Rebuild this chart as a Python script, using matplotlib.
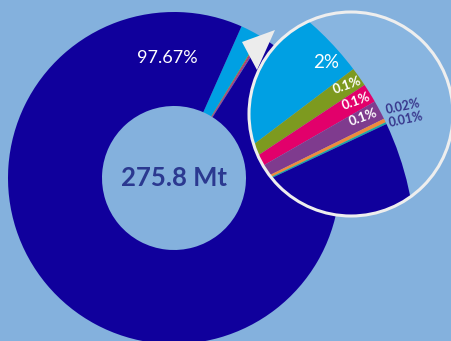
import numpy as np
import matplotlib
matplotlib.use("Agg")
import matplotlib.pyplot as plt
from matplotlib.patches import Wedge, Circle, Polygon

# shares of total (percent), clockwise from the top group
labels = ["2%", "0.1%", "0.1%", "0.1%", "0.02%", "0.01%", "97.67%"]
shares = [2.0, 0.1, 0.1, 0.1, 0.02, 0.01, 97.67]
colors = ["#00a0e3", "#7d9a1f", "#e2006b", "#7f3b8e", "#f08a3c", "#1ba8a0", "#10009c"]
total_text = "275.8 Mt"

W, H = 452, 341
BG = "#84b1dd"


def Y(y):
    # image pixel rows -> data y (origin bottom)
    return H - y


fig = plt.figure(figsize=(W / 100, H / 100), dpi=100, facecolor=BG)
ax = fig.add_axes([0, 0, 1, 1])
ax.set_facecolor(BG)

# main donut
cx, cy, r_out, r_in = 174, 178, 166, 72
ax.pie(shares, colors=colors, radius=r_out, center=(cx, Y(cy)), startangle=66,
       counterclock=False, wedgeprops=dict(width=r_out - r_in, linewidth=0))
ax.text(167, Y(58), labels[-1], color="white", fontsize=13, family="Lato",
        ha="center", va="center")
ax.text(cx, Y(cy), total_text, color="#2b3990", fontsize=18.5, family="Lato",
        fontweight="bold", ha="center", va="center")

# pointer from donut to the zoom circle
tri = Polygon([(242, Y(42)), (275, Y(30)), (257, Y(70))], closed=True,
              facecolor="#ececec", edgecolor="none", zorder=3)
ax.add_patch(tri)

# zoom circle
zx, zy, zr = 351, 114, 102
ax.add_patch(Circle((zx, Y(zy)), zr, facecolor="#88b5e0", edgecolor="none", zorder=4))
clip = Circle((zx, Y(zy)), zr, transform=ax.transData)

# magnified wedges (angles scaled 10x)
mx, my, mr = 106, 256, 310
mag = 3.6 * 10
theta = 25.2 + sum(shares[1:6]) * mag + shares[0] * mag
for i, (s, c) in enumerate(zip(shares, colors)):
    span = s * mag if i < 6 else 100
    w = Wedge((mx, Y(my)), mr, theta - span, theta, width=mr * 0.57,
              facecolor=c, edgecolor="none", zorder=5)
    w.set_clip_path(clip)
    ax.add_patch(w)
    theta -= span

ax.add_patch(Circle((zx, Y(zy)), zr, facecolor="none", edgecolor="#eeeeee",
                    linewidth=2.2, zorder=6))

ax.text(326, Y(63), labels[0], color="white", fontsize=13.5, family="Lato",
        ha="center", va="center", zorder=7)
for lab, (x, y) in zip(labels[1:4], [(347, 85), (356, 101), (363, 117)]):
    ax.text(x, Y(y), lab, color="white", fontsize=9.5, family="Lato",
            fontweight="bold", rotation=20, ha="center", va="center", zorder=7)
for lab, (x, y) in zip(labels[4:6], [(403, 106), (406, 119)]):
    ax.text(x, Y(y), lab, color="#37368c", fontsize=9, family="Lato",
            fontweight="bold", rotation=12, ha="center", va="center", zorder=7)

ax.set_xlim(0, W)
ax.set_ylim(0, H)
ax.set_aspect("auto")
ax.axis("off")
fig.savefig("out.png", dpi=100, facecolor=BG)
